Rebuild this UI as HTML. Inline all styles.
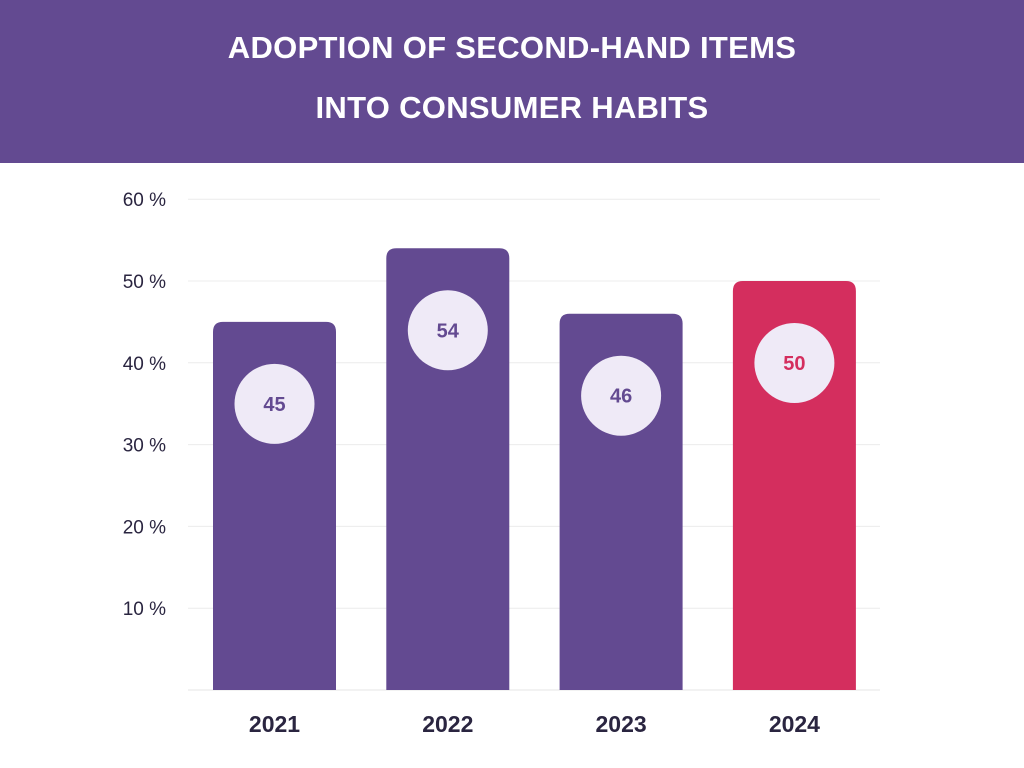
<!DOCTYPE html>
<html><head><meta charset="utf-8">
<style>
body{margin:0;width:1024px;height:768px;background:#fff;font-family:"Liberation Sans",sans-serif;overflow:hidden}
#hdr{position:absolute;left:0;top:0;width:1024px;height:163px;background:#634a91}
#hdr div{position:absolute;left:0;width:1024px;text-align:center;color:#fff;font-weight:bold;font-size:31px;letter-spacing:0.3px}
</style></head><body>
<div id="hdr">
<div style="top:30px">ADOPTION OF SECOND-HAND ITEMS</div>
<div style="top:90px">INTO CONSUMER HABITS</div>
</div>
<svg id="chart" width="1024" height="768" style="position:absolute;left:0;top:0"></svg>
<script>
const categories=["2021","2022","2023","2024"];
const values=[45,54,46,50];
const yTicks=[10,20,30,40,50,60];
const yTickLabels=["10 %","20 %","30 %","40 %","50 %","60 %"];
const svg=document.getElementById('chart');
const NS="http://www.w3.org/2000/svg";
const y0=690,pxPer=8.18;
const y=v=>y0-v*pxPer;
const x=i=>213+i*173.3;
const bw=123;
function mk(t,a,p){const e=document.createElementNS(NS,t);for(const k in a)e.setAttribute(k,a[k]);(p||svg).appendChild(e);return e;}
yTicks.forEach((t,i)=>{
 const g=mk('line',{x1:188,x2:880,y1:y(t),y2:y(t),stroke:'#ececec','stroke-width':1});
 
 
 const l=mk('text',{x:166,y:y(t)+7,'text-anchor':'end','font-size':19,fill:'#2a2540','font-family':'Liberation Sans, sans-serif'});
 l.textContent=yTickLabels[i];
 
 
});
const base=mk('line',{x1:188,x2:880,y1:y0,y2:y0,stroke:'#e4e4e4','stroke-width':1});


values.forEach((v,i)=>{
 const last=i===values.length-1;
 const col=last?'#d42e5e':'#634a91';
 const top=y(v),r=10,xx=x(i);
 const b=mk('path',{d:`M${xx},${y0} V${top+r} Q${xx},${top} ${xx+r},${top} H${xx+bw-r} Q${xx+bw},${top} ${xx+bw},${top+r} V${y0} Z`,fill:col});
 
 
 const c=mk('circle',{cx:xx+bw/2,cy:top+82,r:40,fill:'#efeaf7'});
 
 
 const t=mk('text',{x:xx+bw/2,y:top+89,'text-anchor':'middle','font-size':20,'font-weight':'bold',fill:col,'font-family':'Liberation Sans, sans-serif'});
 t.textContent=v;
 
 
 const xl=mk('text',{x:xx+bw/2,y:732,'text-anchor':'middle','font-size':23,'font-weight':'bold',fill:'#2a2540','font-family':'Liberation Sans, sans-serif'});
 xl.textContent=categories[i];
 
 
});
</script>
</body></html>
